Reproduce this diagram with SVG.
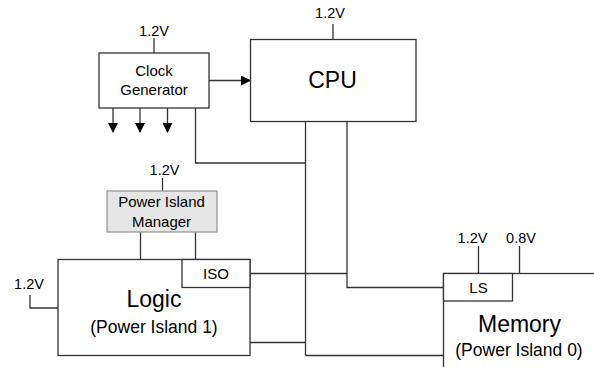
<svg xmlns="http://www.w3.org/2000/svg" width="594" height="367" viewBox="0 0 594 367">
<style>
.box{fill:#fff;stroke:#333;stroke-width:1.3}
.pim{fill:#e6e6e6;stroke:#999;stroke-width:1.3}
.ln{fill:none;stroke:#333;stroke-width:1.3}
text{font-family:"Liberation Sans",Arial,sans-serif;fill:#000;text-anchor:middle}
.v{font-size:14.5px}
.m{font-size:15px}
.big{font-size:23px}
.sub{font-size:17.5px}
</style>
<defs>
<marker id="ah" markerWidth="10" markerHeight="10" refX="9" refY="5" orient="auto" markerUnits="userSpaceOnUse">
<path d="M0,0 L10,5 L0,10 Z" fill="#000"/>
</marker>
</defs>
<rect x="0" y="0" width="594" height="367" fill="#fff"/>
<g id="connectors">
<line class="ln" x1="154" y1="38" x2="154" y2="53"/>
<line class="ln" x1="333" y1="24" x2="333" y2="39"/>
<line class="ln" x1="162.5" y1="178" x2="162.5" y2="191"/>
<line class="ln" x1="478.5" y1="246" x2="478.5" y2="273"/>
<line class="ln" x1="519.5" y1="246" x2="519.5" y2="273"/>
<polyline class="ln" points="30,295 30,308 58,308"/>
<line class="ln" x1="209" y1="80.5" x2="250" y2="80.5" marker-end="url(#ah)"/>
<line class="ln" x1="113" y1="108" x2="113" y2="132" marker-end="url(#ah)"/>
<line class="ln" x1="140" y1="108" x2="140" y2="132" marker-end="url(#ah)"/>
<line class="ln" x1="167.5" y1="108" x2="167.5" y2="132" marker-end="url(#ah)"/>
<polyline class="ln" points="195.5,108 195.5,163 305.5,163"/>
<line class="ln" x1="305.5" y1="122" x2="305.5" y2="355.5"/>
<polyline class="ln" points="305.5,355.5 443,355.5"/>
<polyline class="ln" points="347,122 347,287.5 443,287.5"/>
<line class="ln" x1="250" y1="273.5" x2="347" y2="273.5"/>
<line class="ln" x1="250" y1="342.5" x2="305.5" y2="342.5"/>
<line class="ln" x1="140.5" y1="232" x2="140.5" y2="259"/>
<line class="ln" x1="195.5" y1="232" x2="195.5" y2="259"/>
</g>
<g id="clock">
<rect class="box" x="99" y="53" width="110" height="55"/>
<text class="m" x="154" y="76">Clock</text>
<text class="m" x="154" y="95">Generator</text>
<text class="v" x="154" y="36">1.2V</text>
</g>
<g id="cpu">
<rect class="box" x="250.5" y="39.5" width="165.5" height="82"/>
<text class="big" x="332.5" y="88">CPU</text>
<text class="v" x="330" y="18">1.2V</text>
</g>
<g id="pim">
<rect class="pim" x="107" y="191" width="110" height="41"/>
<text class="m" x="161.5" y="207">Power Island</text>
<text class="m" x="161.5" y="227">Manager</text>
<text class="v" x="164.5" y="174.5">1.2V</text>
</g>
<g id="logic">
<rect class="box" x="58" y="259.5" width="192" height="96"/>
<text class="big" x="154" y="306.5">Logic</text>
<text class="sub" x="154" y="332.5">(Power Island 1)</text>
<text class="v" x="29" y="289">1.2V</text>
</g>
<g id="iso">
<rect class="box" x="182" y="259.5" width="68" height="28"/>
<text class="m" x="216" y="278.5">ISO</text>
</g>
<g id="memory">
<rect class="box" x="443.5" y="273.5" width="160" height="110"/>
<text class="big" x="519.5" y="332">Memory</text>
<text class="sub" x="519" y="356">(Power Island 0)</text>
</g>
<g id="ls">
<rect class="box" x="443.5" y="273.5" width="69" height="27.5"/>
<text class="m" x="478.5" y="292.5">LS</text>
<text class="v" x="472.5" y="242.5">1.2V</text>
<text class="v" x="521" y="242.5">0.8V</text>
</g>
</svg>
